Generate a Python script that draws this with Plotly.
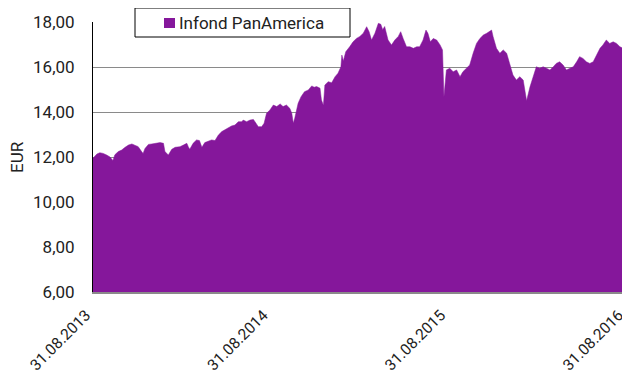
import pandas as pd
import plotly.graph_objects as go

# Days since 31.08.2013 and fund price (EUR)
day_offsets = [0, 2, 8, 14, 21, 28, 35, 41, 45, 52, 59, 66, 73, 80, 86, 93, 100, 103, 107, 114,
               121, 127, 138, 145, 148, 155, 162, 169, 179, 186, 193, 196, 199, 206, 213, 219, 224, 230, 237, 244,
               251, 258, 265, 271, 278, 285, 292, 299, 306, 309, 316, 323, 330, 335, 340, 347, 352, 357, 364, 371,
               378, 385, 391, 398, 405, 409, 412, 415, 419, 422, 428, 435, 443, 450, 455, 460, 467, 470, 474, 477,
               484, 491, 498, 504, 510, 512, 515, 520, 528, 535, 542, 549, 556, 563, 568, 573, 580, 587, 592, 596,
               600, 607, 614, 621, 628, 633, 638, 645, 652, 659, 666, 672, 679, 685, 689, 694, 700, 707, 714, 719,
               722, 727, 734, 741, 748, 755, 761, 768, 775, 782, 789, 796, 803, 810, 816, 820, 823, 830, 837, 844,
               851, 857, 864, 871, 878, 885, 892, 899, 905, 912, 919, 926, 933, 940, 947, 953, 960, 967, 974, 981,
               988, 995, 1001, 1008, 1015, 1022, 1029, 1036, 1043, 1049, 1056, 1063, 1070, 1077, 1084, 1091, 1094, 1096]
prices = [11.95, 12.00, 12.13, 12.19, 12.16, 12.09, 12.00, 11.84, 12.10, 12.24, 12.31, 12.43, 12.53, 12.58, 12.53, 12.46, 12.24, 12.16, 12.38, 12.56,
          12.58, 12.61, 12.64, 12.61, 12.24, 12.09, 12.34, 12.43, 12.46, 12.53, 12.61, 12.46, 12.34, 12.61, 12.76, 12.73, 12.43, 12.64, 12.69, 12.76,
          12.73, 12.98, 13.13, 13.20, 13.28, 13.38, 13.42, 13.57, 13.57, 13.64, 13.57, 13.64, 13.67, 13.50, 13.35, 13.35, 13.50, 13.94, 14.09, 14.31,
          14.24, 14.36, 14.24, 14.31, 14.16, 13.94, 13.50, 13.72, 14.09, 14.39, 14.68, 14.90, 14.98, 15.16, 15.10, 15.13, 15.06, 14.53, 14.30, 15.20,
          15.35, 15.30, 15.57, 15.72, 16.01, 16.53, 16.27, 16.68, 16.90, 17.12, 17.27, 17.36, 17.50, 17.79, 17.57, 17.20, 17.50, 17.94, 17.90, 17.66,
          17.80, 17.20, 16.98, 17.20, 17.36, 17.57, 17.27, 16.90, 16.90, 16.83, 16.90, 16.90, 17.20, 17.64, 17.50, 17.12, 17.27, 17.20, 16.98, 16.76,
          14.68, 15.87, 15.94, 15.79, 15.87, 15.57, 15.79, 15.94, 16.09, 16.61, 17.05, 17.27, 17.42, 17.50, 17.57, 17.64, 17.36, 16.83, 16.61, 16.76,
          16.61, 16.16, 15.64, 15.42, 15.57, 15.42, 14.50, 15.12, 15.57, 16.01, 15.94, 16.01, 15.94, 15.87, 16.01, 16.16, 16.23, 16.09, 15.87, 15.94,
          16.01, 16.23, 16.46, 16.38, 16.23, 16.16, 16.23, 16.53, 16.83, 16.98, 17.20, 17.05, 17.12, 17.05, 16.90, 16.83, 16.80, 16.78]

series_name = "Infond PanAmerica"
x_tick_dates = ["2013-08-31", "2014-08-31", "2015-08-31", "2016-08-31"]
x_tick_labels = ["31.08.2013", "31.08.2014", "31.08.2015", "31.08.2016"]
y_tick_vals = [6, 8, 10, 12, 14, 16, 18]

start = pd.Timestamp("2013-08-31")
dates = start + pd.to_timedelta(day_offsets, unit="D")

PURPLE = "#85179B"
FONT = "Roboto"

# page has an 8px body margin; the figure is sized/offset to compensate
OFF = 8
W, H = 630 - OFF, 374 - OFF
PL, PR, PT, PB = 93, 626, 22, 292  # plot area in window pixels
L, T = PL - OFF, PT - OFF
R, B = W - (PR - OFF), H - (PB - OFF)
pw, ph = PR - PL, PB - PT


def px(xp):
    return (xp - PL) / pw


def py(yp):
    return (PB - yp) / ph


fig = go.Figure()
fig.add_trace(go.Scatter(
    x=dates, y=prices, mode="lines", fill="tozeroy",
    line=dict(color=PURPLE, width=0.5), fillcolor=PURPLE,
    name=series_name, showlegend=False, hoverinfo="skip",
))

fig.update_layout(
    width=W, height=H,
    margin=dict(l=L, r=R, t=T, b=B, autoexpand=False),
    paper_bgcolor="white", plot_bgcolor="white",
    separators=",.",
    font=dict(family=FONT, size=17, color="#222222"),
    xaxis=dict(
        type="date", range=["2013-08-31", "2016-08-31 12:00"],
        tickvals=x_tick_dates, ticktext=x_tick_labels, tickangle=-45,
        ticklabeloverflow="allow", ticklabelstandoff=6, ticklabelshift=-7,
        showgrid=False, zeroline=False, showline=True, linecolor="#8a8a8a", linewidth=2,
        ticks="", tickfont=dict(family=FONT, size=15.5, color="#222222"), automargin=False,
    ),
    yaxis=dict(
        range=[6, 18], tickvals=y_tick_vals, tickformat=".2f",
        showgrid=True, gridcolor="#8a8a8a", gridwidth=1, zeroline=False,
        showline=True, linecolor="#000000", linewidth=1, ticks="",
        ticklabelstandoff=14,
        tickfont=dict(family=FONT, size=17, color="#222222"), automargin=False,
    ),
    shapes=[
        dict(type="rect", xref="paper", yref="paper", x0=px(135), x1=px(350), y0=py(37), y1=py(8),
             line=dict(color="#000000", width=1), fillcolor="white", layer="above"),
        dict(type="rect", xref="paper", yref="paper", x0=px(164), x1=px(175), y0=py(28), y1=py(18),
             line=dict(width=0), fillcolor=PURPLE, layer="above"),
    ],
    annotations=[
        dict(text=series_name, xref="paper", yref="paper", x=px(177), y=py(22.5),
             xanchor="left", yanchor="middle", showarrow=False,
             font=dict(family=FONT, size=17, color="#222222")),
        dict(text="EUR", xref="paper", yref="paper", x=px(17), y=0.5, textangle=-90,
             xanchor="center", yanchor="middle", showarrow=False,
             font=dict(family=FONT, size=17, color="#222222")),
    ],
)

fig.write_html("out.html")
